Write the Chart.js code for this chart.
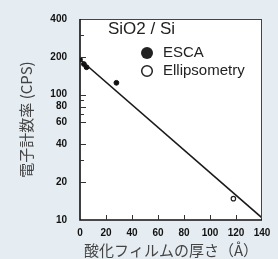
<!DOCTYPE html>
<html>
<head>
<meta charset="utf-8">
<script src="https://cdn.jsdelivr.net/npm/chart.js@4.4.0/dist/chart.umd.min.js"></script>
<style>
  html, body { margin: 0; padding: 0; background: #e5edf2; }
  #wrap { width: 278px; height: 259px; position: relative; }
</style>
</head>
<body>
<div id="wrap"><canvas id="c"></canvas></div>
<script>
// data
const escaX = [0, 3, 5, 28];
const escaY = [190, 175, 165, 124];
const ellX = [118];
const ellY = [14.8];
const fitX = [0, 140];
const fitY = [190, 10.4];
const yTicks = [10, 20, 40, 60, 80, 100, 200, 400];
const yMarks = [20, 30, 40, 60, 70, 80, 90, 100, 200, 300];
const xTicks = [0, 20, 40, 60, 80, 100, 120, 140];
const seriesNames = ['ESCA', 'Ellipsometry'];
const subTitle = 'SiO2 / Si';

const pts = (xs, ys) => xs.map((x, i) => ({ x: x, y: ys[i] }));

const frame = {
  id: 'frame',
  beforeDraw(chart) {
    const a = chart.chartArea, c = chart.ctx;
    c.save();
    c.fillStyle = '#ffffff';
    c.fillRect(a.left, a.top, a.right - a.left, a.bottom - a.top);
    c.restore();
  },
  afterDraw(chart) {
    const a = chart.chartArea, c = chart.ctx;
    const xs = chart.scales.x, ys = chart.scales.y;
    c.save();
    // top + right edges, thinner
    c.strokeStyle = '#444';
    c.lineWidth = 1;
    c.beginPath();
    c.moveTo(a.left, a.top + 0.5); c.lineTo(a.right, a.top + 0.5);
    c.moveTo(a.right - 0.5, a.top); c.lineTo(a.right - 0.5, a.bottom);
    c.stroke();
    // left + bottom edges
    c.strokeStyle = '#111';
    c.lineWidth = 1.6;
    c.beginPath();
    c.moveTo(a.left, a.top); c.lineTo(a.left, a.bottom); c.lineTo(a.right, a.bottom);
    c.stroke();
    // inward tick marks
    c.lineWidth = 1;
    c.strokeStyle = '#333';
    c.beginPath();
    yMarks.forEach(v => {
      const y = Math.round(ys.getPixelForValue(v)) + 0.5;
      const len = yTicks.includes(v) ? 6 : 4;
      c.moveTo(a.left, y); c.lineTo(a.left + len, y);
    });
    xTicks.slice(1, -1).forEach(v => {
      const x = Math.round(xs.getPixelForValue(v)) + 0.5;
      c.moveTo(x, a.bottom); c.lineTo(x, a.bottom - 5);
    });
    c.stroke();
    // caption + legend
    c.fillStyle = '#222';
    c.textBaseline = 'middle';
    c.font = "17px 'Liberation Sans'";
    c.fillText(subTitle, 108, 29);
    c.font = "15px 'Liberation Sans'";
    c.fillText(seriesNames[0], 163, 53);
    c.fillText(seriesNames[1], 163, 71);
    c.beginPath();
    c.arc(147, 53, 6, 0, Math.PI * 2);
    c.fill();
    c.beginPath();
    c.lineWidth = 1.5;
    c.strokeStyle = '#222';
    c.arc(147, 71, 5.3, 0, Math.PI * 2);
    c.stroke();
    c.restore();
  }
};

new Chart(document.getElementById('c'), {
  type: 'scatter',
  data: {
    datasets: [
      {
        label: 'fit',
        data: pts(fitX, fitY),
        showLine: true,
        borderColor: '#1a1a1a',
        borderWidth: 1.6,
        pointRadius: 0
      },
      {
        label: seriesNames[0],
        data: pts(escaX, escaY),
        pointRadius: 2.4,
        backgroundColor: '#111',
        borderColor: '#111'
      },
      {
        label: seriesNames[1],
        data: pts(ellX, ellY),
        pointRadius: 2.2,
        backgroundColor: '#ffffff',
        borderColor: '#222',
        borderWidth: 1.2
      }
    ]
  },
  options: {
    responsive: true,
    maintainAspectRatio: false,
    animation: false,
    layout: { padding: { top: 12, right: 16, left: 0, bottom: 0 } },
    plugins: {
      legend: { display: false },
      tooltip: { enabled: false }
    },
    scales: {
      x: {
        type: 'linear',
        min: 0,
        max: 140,
        afterBuildTicks: s => { s.ticks = xTicks.map(v => ({ value: v })); },
        afterFit: s => { s.height = 39; },
        grid: { display: false, drawTicks: false },
        border: { display: false },
        ticks: {
          padding: 7,
          color: '#111',
          font: { family: 'Liberation Sans', size: 10, weight: 'bold' }
        },
        title: {
          display: true,
          text: '酸化フィルムの厚さ（Å）',
          color: '#444',
          padding: { top: 0, bottom: 0 },
          font: { family: 'Noto Sans CJK JP', size: 15 }
        }
      },
      y: {
        type: 'logarithmic',
        min: 10,
        max: 400,
        afterBuildTicks: s => { s.ticks = yTicks.map(v => ({ value: v })); },
        afterFit: s => { s.width = 80; },
        grid: { display: false, drawTicks: false },
        border: { display: false },
        ticks: {
          padding: 13,
          color: '#111',
          callback: v => String(v),
          font: { family: 'Liberation Sans', size: 10, weight: 'bold' }
        },
        title: {
          display: true,
          text: '電子計数率 (CPS)',
          color: '#444',
          padding: { top: 17, bottom: 0 },
          font: { family: 'Noto Sans CJK JP', size: 15 }
        }
      }
    }
  },
  plugins: [frame]
});
</script>
</body>
</html>
